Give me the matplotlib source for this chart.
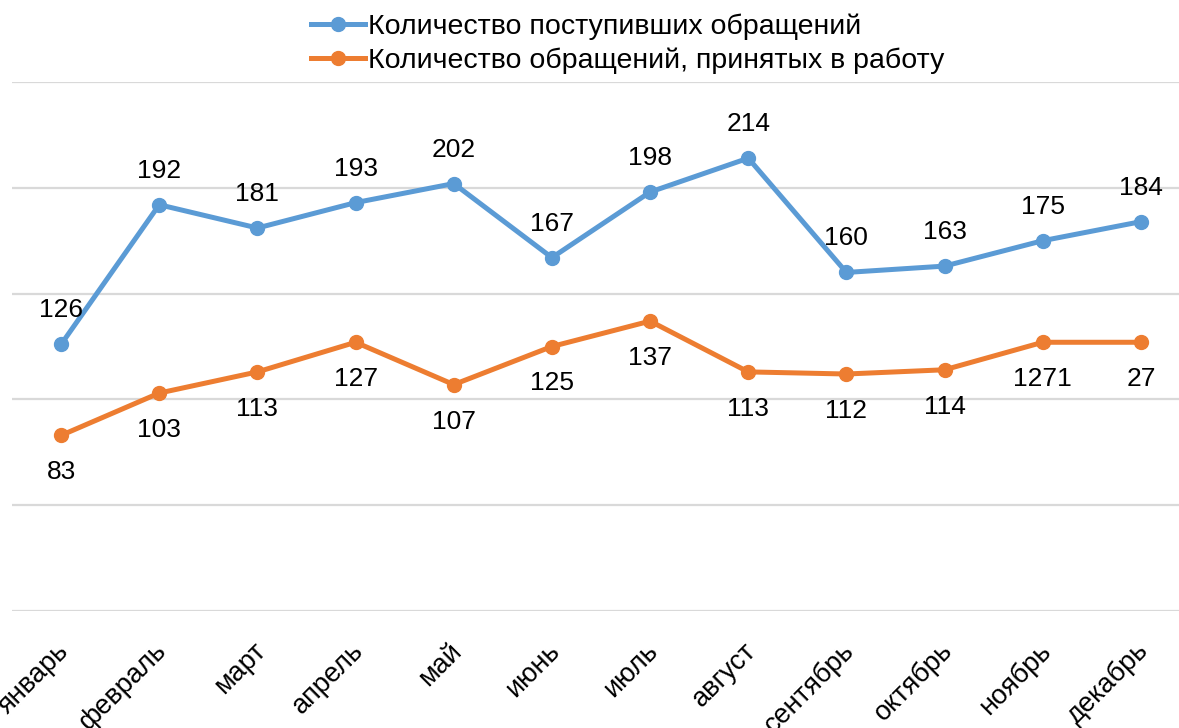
import matplotlib
matplotlib.use("Agg")
import matplotlib.pyplot as plt
from matplotlib.lines import Line2D

plt.rcParams['font.family'] = ['Liberation Sans', 'DejaVu Sans']

months = ["январь", "февраль", "март", "апрель", "май", "июнь",
          "июль", "август", "сентябрь", "октябрь", "ноябрь", "декабрь"]
received = [126, 192, 181, 193, 202, 167, 198, 214, 160, 163, 175, 184]
accepted = [83, 103, 113, 127, 107, 125, 137, 113, 112, 114, 127, 127]
received_labels = [str(v) for v in received]
accepted_labels = ["83", "103", "113", "127", "107", "125", "137",
                   "113", "112", "114", "1271", "27"]
series_names = ["Количество поступивших обращений",
                "Количество обращений, принятых в работу"]

blue = "#5B9BD5"
orange = "#ED7D31"

W, H = 1179, 728
fig = plt.figure(figsize=(W / 100, H / 100), dpi=100)
ax = fig.add_axes([12 / W, 1 - 611 / H, (1190 - 12) / W, (611 - 82) / H])
ax.set_xlim(-0.5, len(months) - 0.5)
ax.set_ylim(0, 250)
ax.set_yticks([0, 50, 100, 150, 200, 250])
ax.grid(axis='y', color='#D9D9D9', linewidth=1.6)
ax.set_axisbelow(True)
for s in ax.spines.values():
    s.set_visible(False)
ax.tick_params(axis='both', length=0)
ax.set_yticklabels([])

x = list(range(len(months)))
ax.plot(x, received, color=blue, lw=3.6, marker='o', ms=10, clip_on=False, zorder=3)
ax.plot(x, accepted, color=orange, lw=3.6, marker='o', ms=10, clip_on=False, zorder=3)

for xi, v, t in zip(x, received, received_labels):
    ax.annotate(t, (xi, v), xytext=(0, 34), textcoords='offset pixels',
                ha='center', va='center', fontsize=19, color='black')
for xi, v, t in zip(x, accepted, accepted_labels):
    ax.annotate(t, (xi, v), xytext=(0, -37), textcoords='offset pixels',
                ha='center', va='center', fontsize=19, color='black')

ax.set_xticks(x)
ax.set_xticklabels([])
for xi, m in zip(x, months):
    ax.annotate(m, (xi, 0), xytext=(4, -36), textcoords='offset pixels',
                ha='right', va='center', rotation=45, rotation_mode='anchor',
                fontsize=19.5, color='black', annotation_clip=False)

handles = [Line2D([0], [0], color=blue, lw=3.6, marker='o', ms=10),
           Line2D([0], [0], color=orange, lw=3.6, marker='o', ms=10)]
fig.legend(handles, series_names, loc='center', bbox_to_anchor=(628 / W, 1 - 44 / H),
           frameon=False, fontsize=20.5, handlelength=1.9, handletextpad=0.1,
           labelspacing=0.25, borderpad=0)

fig.savefig("out.png", dpi=100)
